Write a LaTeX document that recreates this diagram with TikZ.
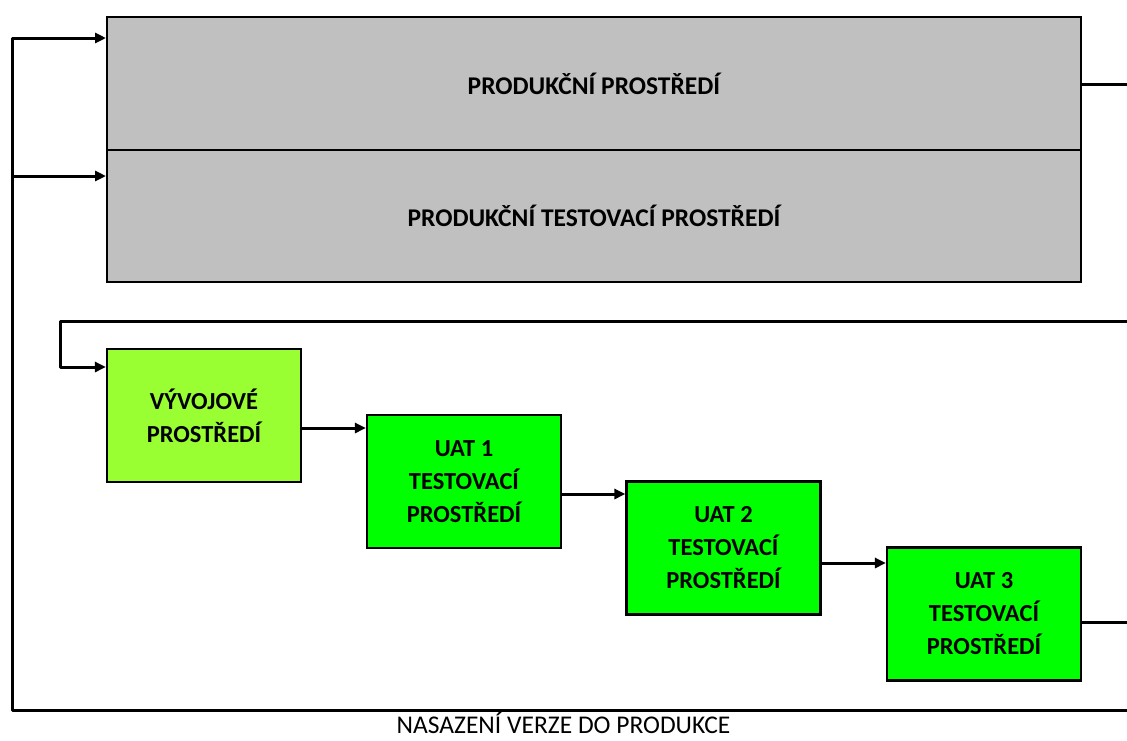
\documentclass[tikz,border=0pt]{standalone}
\usepackage{fontspec}
\setmainfont{Carlito}
\usetikzlibrary{arrows.meta}
\definecolor{prodgray}{RGB}{192,192,192}
\definecolor{devgreen}{RGB}{153,255,51}
\definecolor{uatgreen}{RGB}{0,255,0}
\tikzset{
  envbox/.style={draw=black, line width=2pt, fill=prodgray, inner sep=0pt,
    minimum width=974pt, minimum height=132.5pt,
    font=\fontsize{25.5}{30}\selectfont\bfseries},
  stagebox/.style={draw=black, line width=2.2pt, inner sep=0pt, align=center,
    minimum width=194pt, minimum height=133pt,
    font=\fontsize{24.5}{33}\selectfont\bfseries},
  flow/.style={line width=3pt, line join=round},
  flowarrow/.style={flow, -{Triangle[length=11pt,width=10pt]}}
}
\begin{document}
\begin{tikzpicture}[x=1pt,y=-1pt]
  \useasboundingbox (0,0) rectangle (1127,740);

  % production environments
  \node[envbox] (prod)  at (594,83.5)  {PRODUKČNÍ PROSTŘEDÍ};
  \node[envbox] (ptest) at (594,216)   {PRODUKČNÍ TESTOVACÍ PROSTŘEDÍ};

  % development and UAT stages
  \node[stagebox, fill=devgreen] (dev)  at (204,415.5) {VÝVOJOVÉ\\PROSTŘEDÍ};
  \node[stagebox, fill=uatgreen] (uat1) at (464,481.5) {UAT 1\\TESTOVACÍ\\PROSTŘEDÍ};
  \node[stagebox, fill=uatgreen] (uat2) at (723.5,548) {UAT 2\\TESTOVACÍ\\PROSTŘEDÍ};
  \node[stagebox, fill=uatgreen] (uat3) at (984,614)   {UAT 3\\TESTOVACÍ\\PROSTŘEDÍ};

  % release label
  \node[font=\fontsize{25.5}{30}\selectfont, inner sep=0pt, anchor=base] (release) at (563.5,733.5) {NASAZENÍ VERZE DO PRODUKCE};

  % loop points
  \coordinate (relR)  at (1127,710);
  \coordinate (relL)  at (12,710);
  \coordinate (topL)  at (12,38);
  \coordinate (midL)  at (12,176);
  \coordinate (prodR) at (1127,84);
  \coordinate (backR) at (1127,321);
  \coordinate (backL) at (60,321);
  \coordinate (devIn) at (60,367);
  \coordinate (uatR)  at (1127,622);

  % release loop into production
  \draw[flowarrow] (relR) -- (relL) -- (topL) -- (topL -| prod.west);
  \draw[flowarrow] (midL) -- (midL -| ptest.west);
  \draw[flow] (prodR -| prod.east) -- (prodR);

  % feedback loop into development
  \draw[flowarrow] (backR) -- (backL) -- (devIn) -- (devIn -| dev.west);

  % stage chain
  \draw[flowarrow] ([yshift=-12.5pt]dev.east) -- ([yshift=-12.5pt]dev.east -| uat1.west);
  \draw[flowarrow] ([yshift=-12.5pt]uat1.east) -- ([yshift=-12.5pt]uat1.east -| uat2.west);
  \draw[flowarrow] ([yshift=-15pt]uat2.east) -- ([yshift=-15pt]uat2.east -| uat3.west);
  \draw[flow] (uatR -| uat3.east) -- (uatR);
\end{tikzpicture}
\end{document}
